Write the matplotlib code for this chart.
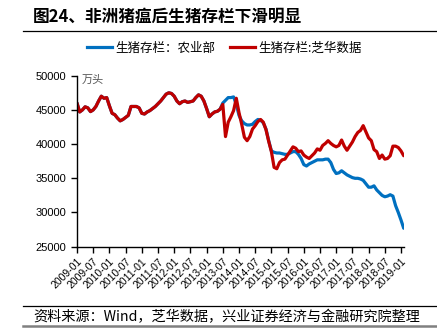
import matplotlib
matplotlib.use("Agg")
import matplotlib.pyplot as plt
from matplotlib.lines import Line2D

# ---- DATA (monthly, 2009-01 .. 2019-02) ----
red_zhihua = [
    46000, 44700, 45000, 45450, 45300, 44750, 45000, 45500, 46300, 47000,
    46700, 46800, 45600, 44500, 44300, 43800, 43400, 43600, 43900, 44200,
    45500, 45500, 45500, 45300, 44500, 44400, 44700, 44900, 45200, 45500,
    45900, 46300, 46800, 47300, 47500, 47400, 47000, 46300, 45900, 46200,
    46300, 46100, 46200, 46300, 46800, 47200, 47000, 46300, 45200, 44000,
    44400, 44700, 44800, 45100, 45800, 41100, 43200, 44000, 44900, 46700,
    44600, 42900, 41000, 40500, 41100, 42200, 42700, 43300, 43600, 43200,
    42100, 40400, 38900, 36600, 36400, 37300, 37700, 37800, 38400, 39000,
    39600, 39400, 38900, 39000, 38400, 38100, 37900, 38300, 38700, 39300,
    39100, 39800, 40100, 40500, 40100, 39800, 39600, 39800, 40600, 39700,
    39100, 39700, 40300, 41100, 41700, 42000, 42700, 41800, 40900, 40500,
    39200, 38900, 37900, 38400, 37800, 37900, 38300, 39700, 39700, 39500,
    39000, 38300,
]

# blue (MOA) runs under the red line until mid 2013
blue_moa_late = [
    46000, 46400, 46800, 46800, 46900, 45800, 44200, 43400, 43000, 42800,
    42800, 42900, 43300, 43600, 43500, 43100, 42200, 40500, 39000, 38800,
    38700, 38700, 38600, 38500, 38500, 38700, 38900, 38900, 38500, 37900,
    37000, 36800, 37100, 37300, 37500, 37700, 37700, 37700, 37800, 37800,
    37300, 36300, 35700, 35800, 36100, 35800, 35500, 35300, 35100, 35000,
    35000, 34900, 34700, 34200, 33700, 33700, 33900, 33300, 32900, 32500,
    32300, 32400, 32600, 32400, 31000, 30000, 28900, 27700,
]
blue_moa = red_zhihua[:54] + blue_moa_late

tick_labels = [
    "2009-01", "2009-07", "2010-01", "2010-07", "2011-01", "2011-07",
    "2012-01", "2012-07", "2013-01", "2013-07", "2014-01", "2014-07",
    "2015-01", "2015-07", "2016-01", "2016-07", "2017-01", "2017-07",
    "2018-01", "2018-07", "2019-01",
]
y_ticks = [25000, 30000, 35000, 40000, 45000, 50000]

blue = "#0070C0"
red = "#C00000"
cjk = ["Noto Sans CJK SC", "DejaVu Sans"]

plt.rcParams["font.family"] = ["Liberation Sans", "Noto Sans CJK SC"]

fig = plt.figure(figsize=(4.37, 3.29), dpi=100)
ax = fig.add_axes([77 / 437, 1 - 246.7 / 329, 326.7 / 437, 171 / 329])

months = list(range(len(red_zhihua)))
ax.plot(months, blue_moa, color=blue, lw=2.3, solid_capstyle="round")
ax.plot(months, red_zhihua, color=red, lw=2.3, solid_capstyle="round")

# ---- AXES ----
ax.set_xlim(0, len(red_zhihua) - 1)
ax.set_ylim(25000, 50000)
ax.set_yticks(y_ticks)
ax.set_yticklabels([str(v) for v in y_ticks], fontsize=8)
ax.set_xticks(range(0, 6 * len(tick_labels), 6))
ax.set_xticklabels(tick_labels, rotation=45, ha="right", fontsize=7.5,
                   rotation_mode="anchor")
ax.tick_params(axis="both", direction="out", length=4, width=1, color="black")
ax.tick_params(axis="x", pad=3)
for side in ["top", "right"]:
    ax.spines[side].set_visible(False)
for side in ["left", "bottom"]:
    ax.spines[side].set_linewidth(1)

ax.text(0.015, 0.975, "万头", transform=ax.transAxes, fontsize=8,
        color="#555555", va="center", ha="left", family=cjk)

# ---- LEGEND ----
leg_handles = [Line2D([], [], color=blue, lw=2.3), Line2D([], [], color=red, lw=2.3)]
fig.legend(leg_handles, ["生猪存栏：农业部", "生猪存栏:芝华数据"],
           loc="center left", bbox_to_anchor=(76 / 437, 1 - 48 / 329), ncol=2,
           frameon=False, handlelength=2.0, handletextpad=0.25,
           columnspacing=1.2, prop={"family": cjk, "size": 9})

# ---- TITLE / SOURCE ----
fig.text(33 / 437, 1 - 17 / 329, "图24、非洲猪瘟后生猪存栏下滑明显",
         fontsize=12, fontweight="bold", va="center", ha="left", family=cjk)
fig.add_artist(Line2D([23 / 437, 1], [1 - 30.7 / 329] * 2, color="black", lw=0.9))
fig.add_artist(Line2D([23 / 437, 1], [1 - 305.5 / 329] * 2, color="black", lw=0.9))
fig.text(33 / 437, 1 - 317.5 / 329,
         "资料来源：Wind，芝华数据，兴业证券经济与金融研究院整理",
         fontsize=10.2, va="center", ha="left", family=cjk)
fig.add_artist(Line2D([23 / 437, 1], [1 - 326 / 329] * 2, color="#808080", lw=1.8))

fig.savefig("out.png", dpi=100)
